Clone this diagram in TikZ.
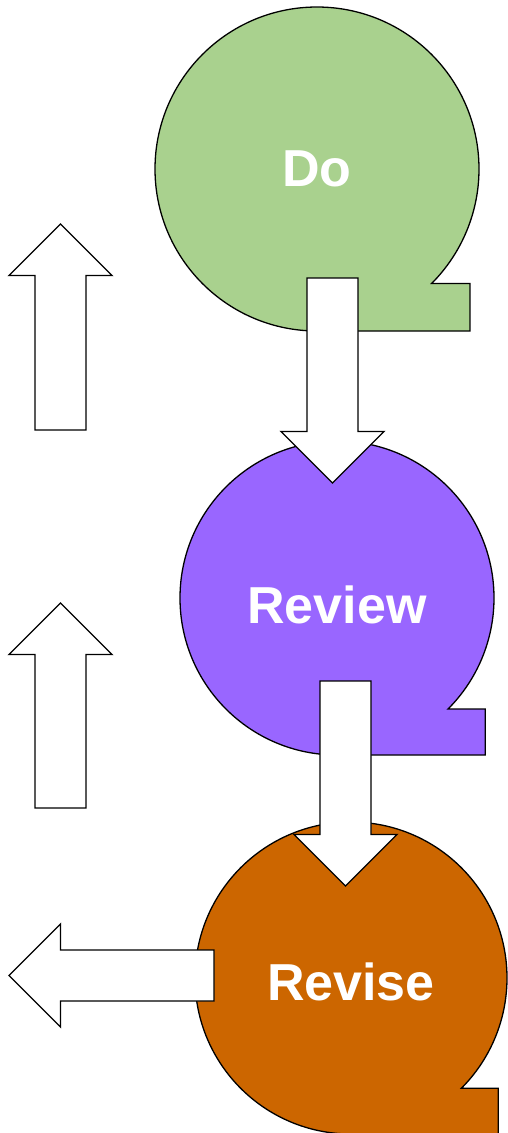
\documentclass[tikz,border=0pt]{standalone}
\usepackage{fontspec}
\setmainfont{Liberation Sans}
\usetikzlibrary{positioning}
\definecolor{dogreen}{HTML}{A9D18E}
\definecolor{reviewpurple}{HTML}{9966FF}
\definecolor{reviseorange}{HTML}{CC6600}

% round step shape with a square tail at the lower right
\newcommand{\qblob}[4]{%
    \filldraw[blobline, fill=#4] (#1,#2) ++(0,#3)
        arc[start angle=90, end angle=405, radius=#3]
        -- ++({0.237*#3},0) -- ++(0,{0.293*#3}) -- cycle;
}
% hollow block arrow: tail point, direction, length
\newcommand{\bigarrow}[3]{%
    \begin{scope}[shift={#1}, rotate=#2]
        \filldraw[arrowbox] (0,-25.5) -- (#3-51.5,-25.5) -- (#3-51.5,-51.5)
            -- (#3,0) -- (#3-51.5,51.5) -- (#3-51.5,25.5) -- (0,25.5) -- cycle;
    \end{scope}
}

\begin{document}
\begin{tikzpicture}[
    x=1pt, y=-1pt,
    blobline/.style={draw=black, line width=1.3pt},
    arrowbox/.style={draw=black, line width=1.3pt, fill=white, line join=miter},
    steplabel/.style={text=white, inner sep=0pt,
        font=\fontsize{52}{60}\selectfont\bfseries},
]
\useasboundingbox (0,0) rectangle (508,1133);

% ============ STEPS ============
\qblob{317}{169}{162}{dogreen}
\qblob{337}{598}{157}{reviewpurple}
\qblob{351}{978}{156}{reviseorange}

\node[steplabel] (do) at (317,169) {Do};
\node[steplabel] (review) at (337,605) {Review};
\node[steplabel] (revise) at (351,982) {Revise};

% ============ ARROWS ============
\coordinate (doout) at (332.5,278);
\coordinate (reviewout) at (345.5,681);
\coordinate (reviseout) at (214,975.5);
\coordinate (upone) at (60.5,430);
\coordinate (uptwo) at (60.5,808);

\bigarrow{(doout)}{-90}{205}
\bigarrow{(reviewout)}{-90}{205}
\bigarrow{(reviseout)}{180}{205}
\bigarrow{(upone)}{90}{206}
\bigarrow{(uptwo)}{90}{205}

\end{tikzpicture}
\end{document}
